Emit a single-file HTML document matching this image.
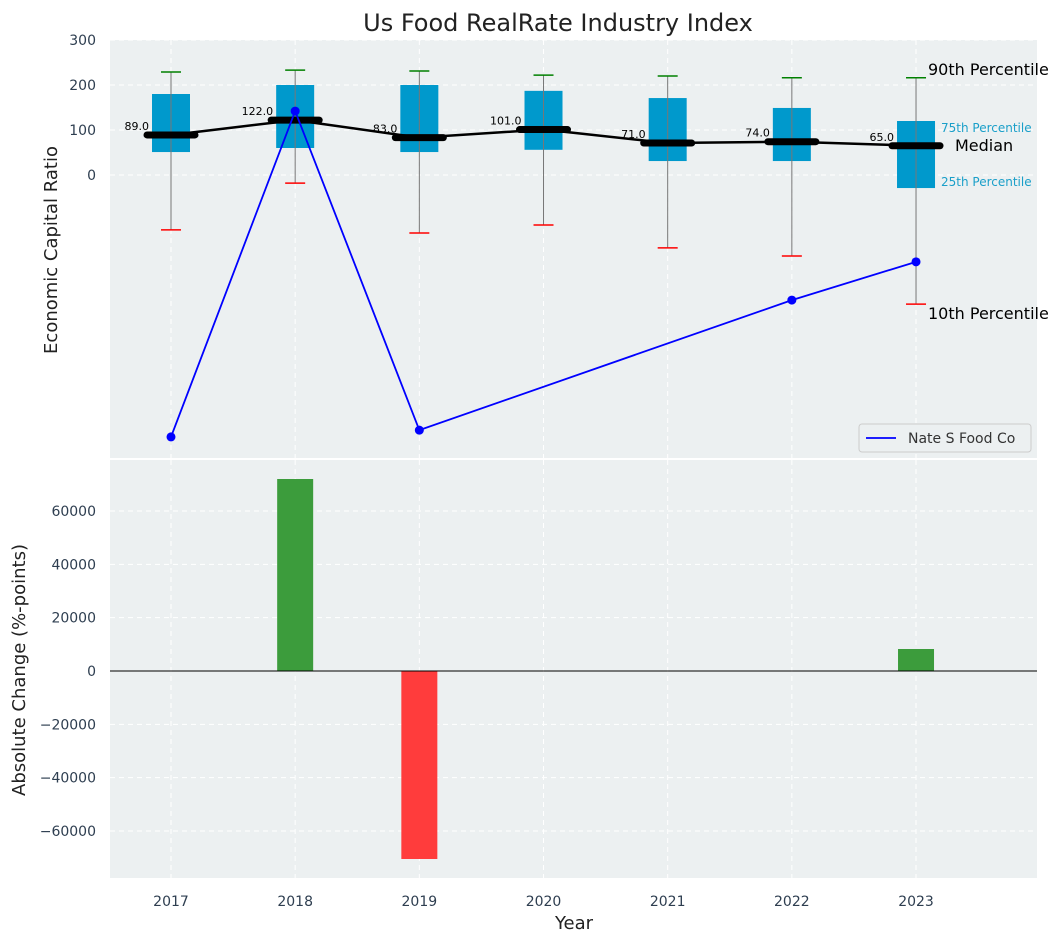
<!DOCTYPE html>
<html><head><meta charset="utf-8"><style>
body{margin:0;background:#fff;font-family:"Liberation Sans","DejaVu Sans",sans-serif}
svg{display:block}
</style></head><body>
<svg id="c" width="1063" height="942" xmlns="http://www.w3.org/2000/svg" font-family="DejaVu Sans, Liberation Sans, sans-serif"></svg>
<script>
const years=["2017","2018","2019","2020","2021","2022","2023"];
const medians=[89,122,83,101,71,74,65];
const q1=[51,60,51,56,31,31,-29];
const q3=[180,200,200,187,171,149,120];
const p90=[229,233,231,222,220,216,216];
const p10=[-122,-18,-129,-111,-162,-180,-287];
const companyYears=[0,1,2,5,6];
const companyVals=[-582,142,-567,-278,-193];
const changes=[0,72000,-70500,0,0,0,8250];
const topTicks=[0,100,200,300];
const botTicks=[-60000,-40000,-20000,0,20000,40000,60000];

const svg=document.getElementById('c');
const NS='http://www.w3.org/2000/svg';
function el(t,a,p){const e=document.createElementNS(NS,t);for(const k in a)e.setAttribute(k,a[k]);(p||svg).appendChild(e);return e;}
const L=110,R=1037;
const x=i=>171+i*124.17;
const yT=v=>175-v*0.45;
const yB=v=>671-v*160/60000;

// panels
let bg=el('rect',{x:L,y:40,width:R-L,height:418,fill:'#ecf0f1'});

let bg2=el('rect',{x:L,y:460,width:R-L,height:418,fill:'#ecf0f1'});


// grids
years.forEach((y,i)=>{
  el('line',{x1:x(i),x2:x(i),y1:40,y2:458,stroke:'#fff','stroke-dasharray':'5,4','stroke-width':1});
  el('line',{x1:x(i),x2:x(i),y1:460,y2:878,stroke:'#fff','stroke-dasharray':'5,4','stroke-width':1});
  let t=el('text',{x:x(i),y:906,'text-anchor':'middle','font-size':14,fill:'#2e3e50'});t.textContent=y;
  
});
topTicks.forEach(v=>{
  el('line',{x1:L,x2:R,y1:yT(v),y2:yT(v),stroke:'#fff','stroke-dasharray':'5,4'});
  let t=el('text',{x:96,y:yT(v)+5,'text-anchor':'end','font-size':14,fill:'#2e3e50'});t.textContent=v;
  
});
botTicks.forEach(v=>{
  el('line',{x1:L,x2:R,y1:yB(v),y2:yB(v),stroke:'#fff','stroke-dasharray':'5,4'});
  let t=el('text',{x:96,y:yB(v)+5,'text-anchor':'end','font-size':14,fill:'#2e3e50'});t.textContent=(v<0?'\u2212'+(-v):v);
  
});

// boxes
years.forEach((y,i)=>{
  const cx=x(i);
  let b=el('rect',{x:cx-19,y:yT(q3[i]),width:38,height:yT(q1[i])-yT(q3[i]),fill:'#0099cc'});
  
  el('line',{x1:cx,x2:cx,y1:yT(p90[i]),y2:yT(p10[i]),stroke:'#777','stroke-width':1});
  el('line',{x1:cx-10,x2:cx+10,y1:yT(p90[i]),y2:yT(p90[i]),stroke:'green','stroke-width':1.5});
  el('line',{x1:cx-10,x2:cx+10,y1:yT(p10[i]),y2:yT(p10[i]),stroke:'red','stroke-width':1.5});
});
// median line
let mp=el('polyline',{points:medians.map((m,i)=>x(i)+','+yT(m)).join(' '),fill:'none',stroke:'#000','stroke-width':2.5});

medians.forEach((m,i)=>{
  let s=el('line',{x1:x(i)-24,x2:x(i)+24,y1:yT(m),y2:yT(m),stroke:'#000','stroke-width':7,'stroke-linecap':'round'});
  
  let t=el('text',{x:x(i)-22,y:yT(m)-5,'text-anchor':'end','font-size':11,fill:'#000'});t.textContent=m.toFixed(1);
  
});
// company line
let cl=el('polyline',{points:companyYears.map((yi,k)=>x(yi)+','+yT(companyVals[k])).join(' '),fill:'none',stroke:'blue','stroke-width':1.8});

companyYears.forEach((yi,k)=>{
  let c=el('circle',{cx:x(yi),cy:yT(companyVals[k]),r:4.5,fill:'blue'});
  
});
// annotations
const ann=[[928,75,'90th Percentile',16,'#000'],[941,132,'75th Percentile',12,'#1a9fc9'],[955,151,'Median',16,'#000'],[941,186,'25th Percentile',12,'#1a9fc9'],[928,319,'10th Percentile',16,'#000']];
ann.forEach(a=>{let t=el('text',{x:a[0],y:a[1],'font-size':a[3],fill:a[4]});t.textContent=a[2];
  });
// legend
let lg=el('g',{});
el('rect',{x:859,y:424,width:172,height:28,fill:'#ecf0f1',stroke:'#ccc',rx:3},lg);
el('line',{x1:866,x2:896,y1:438,y2:438,stroke:'blue','stroke-width':1.8},lg);
let lt=el('text',{x:908,y:443,'font-size':14,fill:'#333'},lg);lt.textContent='Nate S Food Co';

// bars
changes.forEach((v,i)=>{
  if(!v)return;
  let b=el('rect',{x:x(i)-18,y:Math.min(yB(v),yB(0)),width:36,height:Math.abs(yB(v)-yB(0)),fill:v>0?'#3c9c3c':'#ff3c3c'});
  
});
el('line',{x1:L,x2:R,y1:yB(0),y2:yB(0),stroke:'#000','stroke-width':1});

// titles
let tt=el('text',{x:558,y:31,'text-anchor':'middle','font-size':24,fill:'#222'});tt.textContent='Us Food RealRate Industry Index';

let yl=el('text',{x:0,y:0,'text-anchor':'middle','font-size':18,fill:'#222',transform:'translate(57,250) rotate(-90)'});yl.textContent='Economic Capital Ratio';

let yl2=el('text',{x:0,y:0,'text-anchor':'middle','font-size':18,fill:'#222',transform:'translate(25,670) rotate(-90)'});yl2.textContent='Absolute Change (%-points)';

let xl=el('text',{x:574,y:929,'text-anchor':'middle','font-size':18,fill:'#222'});xl.textContent='Year';

</script>
</body></html>
